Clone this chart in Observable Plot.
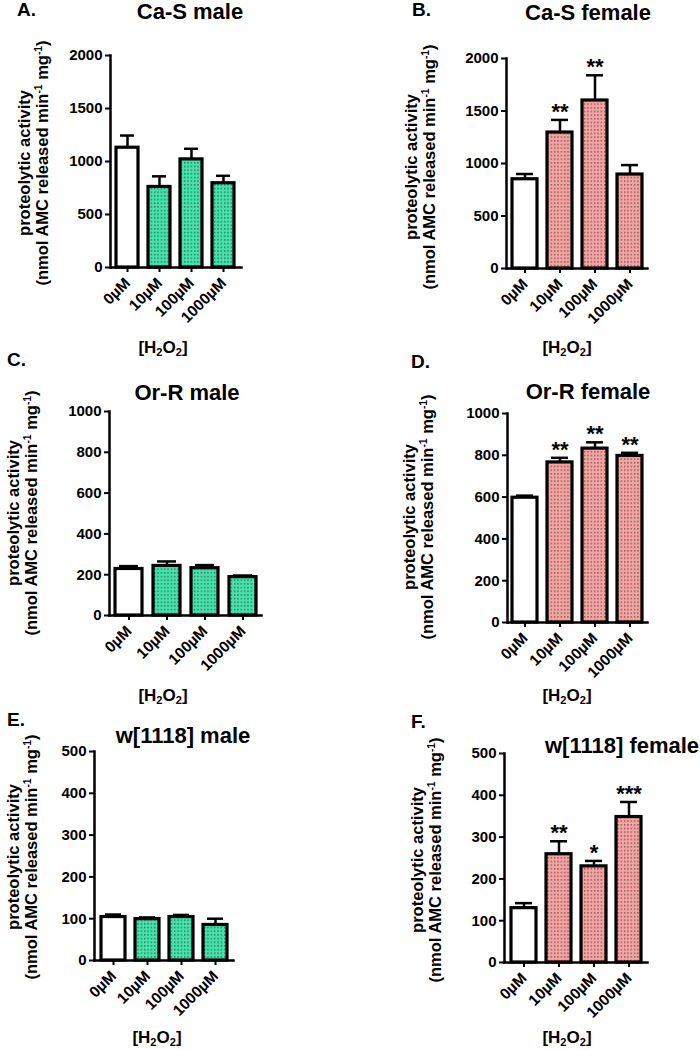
<!DOCTYPE html>
<html>
<head>
<meta charset="utf-8">
<script src="https://cdn.jsdelivr.net/npm/d3@7"></script>
<script src="https://cdn.jsdelivr.net/npm/@observablehq/plot@0.6"></script>
<style>
  html, body { margin: 0; padding: 0; background: #fff; }
  #page { position: relative; width: 700px; height: 1050px; overflow: hidden; background: #fff;
          font-family: "Liberation Sans", Arial, sans-serif; color: #000; }
  .abs { position: absolute; white-space: nowrap; font-weight: bold; line-height: 1; }
  .letter { font-size: 19px; }
  .title { font-size: 22px; }
  .xlab { font-size: 17px; }
  .xlab sub { font-size: 0.65em; vertical-align: baseline; position: relative; top: 0.3em; }
  .ylab { font-size: 16.5px; line-height: 18px; text-align: center; }
  .ylab sup { font-size: 0.62em; vertical-align: baseline; position: relative; top: -0.55em; line-height: 0; }
  .panel { position: absolute; }
</style>
</head>
<body>
<div id="page">
  <svg width="0" height="0" style="position:absolute">
    <defs>
      <pattern id="dotsGreen" patternUnits="userSpaceOnUse" width="3.33" height="3.67">
        <rect width="3.33" height="3.67" fill="#43e3ab"></rect>
        <rect x="1" y="1.2" width="1.1" height="1.1" fill="#2a2a2a"></rect>
      </pattern>
      <pattern id="dotsPink" patternUnits="userSpaceOnUse" width="3.33" height="3.67">
        <rect width="3.33" height="3.67" fill="#f6a3a1"></rect>
        <rect x="1" y="1.2" width="1.1" height="1.1" fill="#2a2a2a"></rect>
      </pattern>
    </defs>
  </svg>
</div>
<script>
// ---------- data ----------
const doses = ["0µM", "10µM", "100µM", "1000µM"];

const caSMaleMean = [1130, 760, 1020, 795];
const caSMaleSem = [115, 100, 100, 70];
const caSMaleStars = ["", "", "", ""];

const caSFemaleMean = [850, 1295, 1600, 895];
const caSFemaleSem = [50, 120, 240, 90];
const caSFemaleStars = ["", "**", "**", ""];

const orRMaleMean = [228, 243, 232, 188];
const orRMaleSem = [14, 22, 15, 8];
const orRMaleStars = ["", "", "", ""];

const orRFemaleMean = [597, 766, 832, 797];
const orRFemaleSem = [10, 22, 30, 15];
const orRFemaleStars = ["", "**", "**", "**"];

const w1118MaleMean = [104, 99, 104, 85];
const w1118MaleSem = [6, 4, 5, 15];
const w1118MaleStars = ["", "", "", ""];

const w1118FemaleMean = [130, 259, 230, 348];
const w1118FemaleSem = [12, 31, 13, 36];
const w1118FemaleStars = ["", "**", "*", "***"];

const ticks2000 = [0, 500, 1000, 1500, 2000];
const ticks1000 = [0, 200, 400, 600, 800, 1000];
const ticks500 = [0, 100, 200, 300, 400, 500];

const panelLetters = ["A.", "B.", "C.", "D.", "E.", "F."];
const panelTitles = ["Ca-S male", "Ca-S female", "Or-R male", "Or-R female", "w[1118] male", "w[1118] female"];

// ---------- layout ----------
const panels = [
  {mean: caSMaleMean, sem: caSMaleSem, stars: caSMaleStars, ticks: ticks2000, sex: "male",
   L: {left: 0, top: 40, h: 300, axisX: 110, xEnd: 241, yTop: 55, y0: 267,
       letter: [17, 0], title: [190, 1, "c"], ylab: [33, 163], xlab: [163, 339]}},
  {mean: caSFemaleMean, sem: caSFemaleSem, stars: caSFemaleStars, ticks: ticks2000, sex: "female",
   L: {left: 350, top: 40, h: 300, axisX: 506, xEnd: 647, yTop: 58, y0: 268,
       letter: [412, 0], title: [588, 2, "c"], ylab: [420, 167], xlab: [567, 339]}},
  {mean: orRMaleMean, sem: orRMaleSem, stars: orRMaleStars, ticks: ticks1000, sex: "male",
   L: {left: 0, top: 395, h: 300, axisX: 109, xEnd: 261, yTop: 411, y0: 615,
       letter: [7, 350], title: [187, 382, "c"], ylab: [22, 513], xlab: [163, 687]}},
  {mean: orRFemaleMean, sem: orRFemaleSem, stars: orRFemaleStars, ticks: ticks1000, sex: "female",
   L: {left: 350, top: 395, h: 300, axisX: 507, xEnd: 647, yTop: 413, y0: 622,
       letter: [411, 352], title: [588, 381, "c"], ylab: [418, 517], xlab: [567, 687]}},
  {mean: w1118MaleMean, sem: w1118MaleSem, stars: w1118MaleStars, ticks: ticks500, sex: "male",
   L: {left: 0, top: 735, h: 295, axisX: 94, xEnd: 233, yTop: 751, y0: 960,
       letter: [7, 710], title: [183, 725, "c"], ylab: [22, 857], xlab: [157, 1029]}},
  {mean: w1118FemaleMean, sem: w1118FemaleSem, stars: w1118FemaleStars, ticks: ticks500, sex: "female",
   L: {left: 350, top: 735, h: 295, axisX: 504, xEnd: 647, yTop: 753, y0: 962,
       letter: [411, 712], title: [545, 735, "l"], ylab: [426, 860], xlab: [567, 1029]}}
];

const page = document.getElementById("page");

function addDiv(cls, html, x, y, transform) {
  const d = document.createElement("div");
  d.className = "abs " + cls;
  d.innerHTML = html;
  d.style.left = x + "px";
  d.style.top = y + "px";
  if (transform) d.style.transform = transform;
  page.appendChild(d);
  return d;
}

panels.forEach((p, k) => {
  const L = p.L;
  const data = doses.map((dose, i) => ({
    dose, mean: p.mean[i], top: p.mean[i] + p.sem[i], star: p.stars[i], control: i === 0
  }));
  const fillUrl = p.sex === "male" ? "url(#dotsGreen)" : "url(#dotsPink)";
  const svg = Plot.plot({
    width: 350,
    height: L.h,
    marginLeft: L.axisX - L.left,
    marginRight: L.left + 350 - L.xEnd,
    marginTop: L.yTop - L.top,
    marginBottom: L.top + L.h - L.y0,
    style: {color: "black", background: "transparent", overflow: "visible",
            fontFamily: "'Liberation Sans', Arial, sans-serif"},
    x: {domain: doses, paddingInner: 0.3, paddingOuter: 0.15, label: null},
    y: {domain: [0, p.ticks[p.ticks.length - 1]], label: null},
    marks: [
      Plot.ruleX(data, {x: "dose", y1: "mean", y2: "top", stroke: "black", strokeWidth: 2.5}),
      Plot.tickY(data, {x: "dose", y: "top", stroke: "black", strokeWidth: 2.5, inset: 4}),
      Plot.barY(data.filter(d => d.control), {x: "dose", y: "mean", fill: "white", stroke: "black", strokeWidth: 3.2}),
      Plot.barY(data.filter(d => !d.control), {x: "dose", y: "mean", fill: fillUrl, stroke: "black", strokeWidth: 3.2}),
      Plot.text(data.filter(d => d.star), {x: "dose", y: "top", text: "star", dy: -8, fontSize: 22, fontWeight: "bold", fill: "black"}),
      Plot.axisY({ticks: p.ticks, tickFormat: "d", tickSize: 5, tickPadding: 3, strokeWidth: 2,
                  fontSize: 15, fontWeight: "bold", label: null}),
      Plot.axisX({tickRotate: -45, tickSize: 5, tickPadding: 8, strokeWidth: 2,
                  fontSize: 15.5, fontWeight: "bold", label: null}),
      Plot.frame({anchor: "left", strokeWidth: 2.5}),
      Plot.frame({anchor: "bottom", strokeWidth: 2.5})
    ]
  });
  svg.classList.add("panel");
  svg.style.left = L.left + "px";
  svg.style.top = L.top + "px";
  page.appendChild(svg);

  addDiv("letter", panelLetters[k], L.letter[0], L.letter[1]);
  addDiv("title", panelTitles[k], L.title[0], L.title[1], L.title[2] === "c" ? "translateX(-50%)" : null);
  addDiv("ylab", "proteolytic activity<br>(nmol AMC released min<sup>-1</sup> mg<sup>-1</sup>)",
         L.ylab[0], L.ylab[1], "translate(-50%, -50%) rotate(-90deg)");
  addDiv("xlab", "[H<sub>2</sub>O<sub>2</sub>]", L.xlab[0], L.xlab[1], "translateX(-50%)");
});
</script>
</body>
</html>
